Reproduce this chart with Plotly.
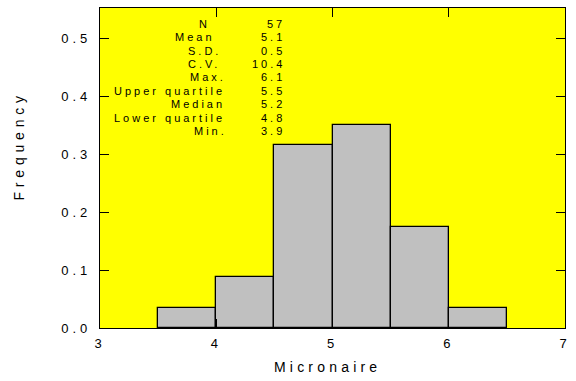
import plotly.graph_objects as go

# ---- data ----
bin_left = [3.5, 4.0, 4.5, 5.0, 5.5, 6.0]
bin_width = 0.5
frequency = [0.035, 0.088, 0.316, 0.351, 0.175, 0.035]

stat_labels = ["N", "Mean", "S.D.", "C.V.", "Max.", "Upper quartile", "Median", "Lower quartile", "Min."]
stat_values = ["57", "5.1", "0.5", "10.4", "6.1", "5.5", "5.2", "4.8", "3.9"]

x_title = "Micronaire"
y_title = "Frequency"

# ---- layout helpers (pixel geometry of the plot box) ----
W, H = 576, 381
L, R, T, B = 100, 567, 7, 328
PW, PH = R - L, B - T

def px_x(px):
    return (px - L) / PW

def px_y(py):
    return (B - py) / PH

label_right_px = [211, 217, 223, 222, 228, 227, 227, 227, 229]
value_right_px = 287
row_top_px = 22.7
row_step_px = 13.5

FONT = "Liberation Sans, Arial, sans-serif"

fig = go.Figure()
fig.add_trace(go.Bar(
    x=[b + bin_width / 2 for b in bin_left],
    y=frequency,
    width=[bin_width] * len(bin_left),
    marker=dict(color="#C0C0C0", line=dict(color="#000000", width=1.3)),
    hoverinfo="skip",
))

annotations = []
annotations.append(dict(text=y_title, xref="paper", yref="paper",
                        x=px_x(18), y=px_y(145), textangle=-90,
                        showarrow=False, xanchor="center", yanchor="middle",
                        font=dict(family=FONT, size=14, color="black")))
annotations.append(dict(text=x_title, xref="paper", yref="paper",
                        x=px_x(328.6), y=px_y(367), showarrow=False,
                        xanchor="center", yanchor="middle",
                        font=dict(family=FONT, size=14, color="black")))
for i, (lab, val) in enumerate(zip(stat_labels, stat_values)):
    yy = px_y(row_top_px + i * row_step_px)
    annotations.append(dict(text=lab, xref="paper", yref="paper",
                            x=px_x(label_right_px[i]), y=yy, showarrow=False,
                            xanchor="right", yanchor="middle", align="right",
                            borderpad=0,
                            font=dict(family=FONT, size=11, color="black")))
    annotations.append(dict(text=val, xref="paper", yref="paper",
                            x=px_x(value_right_px), y=yy, showarrow=False,
                            xanchor="right", yanchor="middle", align="right",
                            borderpad=0,
                            font=dict(family=FONT, size=11, color="black")))

axis_common = dict(showline=True, linecolor="black", linewidth=1.3, mirror="ticks",
                   ticks="inside", ticklen=9, tickwidth=1.2, tickcolor="black",
                   showgrid=False, zeroline=False,
                   tickfont=dict(family=FONT, size=13, color="black"))

fig.update_layout(
    width=W, height=H,
    margin=dict(l=L, r=W - R, t=T, b=H - B, pad=0),
    paper_bgcolor="white",
    plot_bgcolor="#FFFF00",
    showlegend=False,
    bargap=0,
    annotations=annotations,
    xaxis=dict(range=[3, 7], dtick=1, tick0=3, ticklabelstandoff=3, **axis_common),
    yaxis=dict(range=[0, 0.552], dtick=0.1, tick0=0, tickformat=".1f", ticklabelstandoff=5, **axis_common),
)

post = """
function spacing(){
  var gd = document.getElementById('{plot_id}');
  gd.querySelectorAll('.xtick text, .ytick text').forEach(function(t){ t.style.letterSpacing='4px'; });
  var ann = gd.querySelectorAll('.annotation-text');
  ann.forEach(function(t, i){
    t.style.letterSpacing = (i === 0) ? '4.8px' : ((i === 1) ? '4.2px' : '3px');
  });
}
spacing();
document.getElementById('{plot_id}').on('plotly_afterplot', spacing);
"""

fig.write_html("out.html", post_script=post, config={"displayModeBar": False})
